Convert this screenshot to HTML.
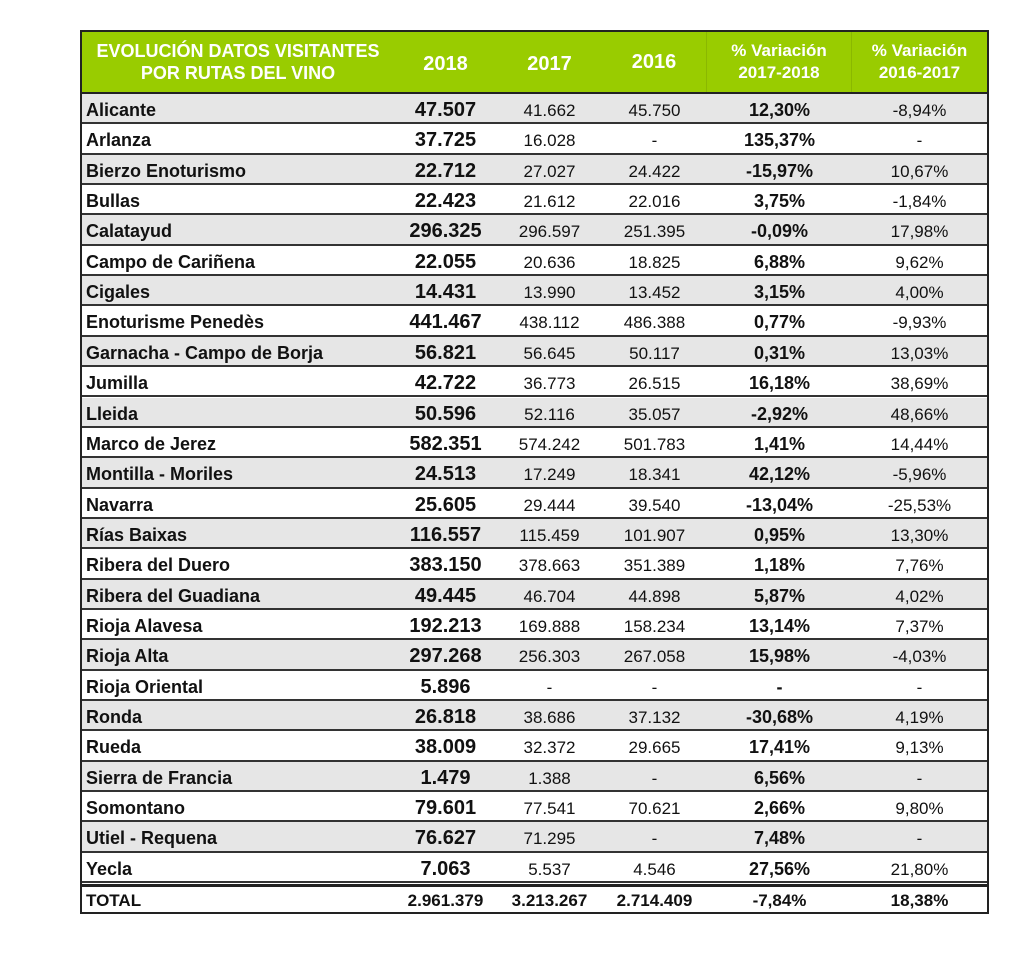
<!DOCTYPE html>
<html><head><meta charset="utf-8"><style>
body{margin:0;width:1024px;height:961px;background:#fff;position:relative;overflow:hidden;font-family:"Liberation Sans",sans-serif;}
#frame{position:absolute;left:80px;top:30px;width:905px;height:880px;border:2px solid #222;box-sizing:content-box;}
.hd{position:absolute;top:0;height:60px;background:#99cc00;color:#fff;font-weight:bold;display:flex;align-items:center;justify-content:center;text-align:center;line-height:22px;}
.row{position:absolute;left:0;width:905px;height:29px;border-bottom:2px solid #333;}
.c{position:absolute;top:0;height:29px;line-height:33px;font-size:17px;color:#111;text-align:center;}
</style></head><body>
<div id="frame">
<div class="hd" style="left:0;width:312px;font-size:18px;border-right:1px solid #8ab800">EVOLUCIÓN DATOS VISITANTES<br>POR RUTAS DEL VINO</div>
<div class="hd" style="left:312px;width:103px;font-size:20px;padding-top:4px;box-sizing:border-box">2018</div>
<div class="hd" style="left:415px;width:105px;font-size:20px;padding-top:4px;box-sizing:border-box">2017</div>
<div class="hd" style="left:520px;width:105px;font-size:20px;border-right:1px solid #8ab800;box-sizing:border-box">2016</div>
<div class="hd" style="left:625px;width:145px;font-size:17px;border-right:1px solid #8ab800;box-sizing:border-box">% Variación<br>2017-2018</div>
<div class="hd" style="left:770px;width:135px;font-size:17px">% Variación<br>2016-2017</div>
<div style="position:absolute;left:0;top:60px;width:905px;height:2px;background:#222"></div>
</div>
<script>
const routes=["Alicante","Arlanza","Bierzo Enoturismo","Bullas","Calatayud","Campo de Cariñena","Cigales","Enoturisme Penedès","Garnacha - Campo de Borja","Jumilla","Lleida","Marco de Jerez","Montilla - Moriles","Navarra","Rías Baixas","Ribera del Duero","Ribera del Guadiana","Rioja Alavesa","Rioja Alta","Rioja Oriental","Ronda","Rueda","Sierra de Francia","Somontano","Utiel - Requena","Yecla"];
const v2018=["47.507","37.725","22.712","22.423","296.325","22.055","14.431","441.467","56.821","42.722","50.596","582.351","24.513","25.605","116.557","383.150","49.445","192.213","297.268","5.896","26.818","38.009","1.479","79.601","76.627","7.063"];
const v2017=["41.662","16.028","27.027","21.612","296.597","20.636","13.990","438.112","56.645","36.773","52.116","574.242","17.249","29.444","115.459","378.663","46.704","169.888","256.303","-","38.686","32.372","1.388","77.541","71.295","5.537"];
const v2016=["45.750","-","24.422","22.016","251.395","18.825","13.452","486.388","50.117","26.515","35.057","501.783","18.341","39.540","101.907","351.389","44.898","158.234","267.058","-","37.132","29.665","-","70.621","-","4.546"];
const var1=["12,30%","135,37%","-15,97%","3,75%","-0,09%","6,88%","3,15%","0,77%","0,31%","16,18%","-2,92%","1,41%","42,12%","-13,04%","0,95%","1,18%","5,87%","13,14%","15,98%","-","-30,68%","17,41%","6,56%","2,66%","7,48%","27,56%"];
const var2=["-8,94%","-","10,67%","-1,84%","17,98%","9,62%","4,00%","-9,93%","13,03%","38,69%","48,66%","14,44%","-5,96%","-25,53%","13,30%","7,76%","4,02%","7,37%","-4,03%","-","4,19%","9,13%","-","9,80%","-","21,80%"];
const totals=["TOTAL","2.961.379","3.213.267","2.714.409","-7,84%","18,38%"];
const f=document.getElementById('frame');
const cols=[[4,308,'left',true,18],[312,103,'center',true,20],[415,105,'center',false,17],[520,105,'center',false,17],[625,145,'center',true,18],[770,135,'center',false,17]];
const rowH=30.35;
function mk(top,vals,bg,name,h,total){
 const r=document.createElement('div');r.className='row';
 
 
 r.style.top=top+'px';r.style.background=bg;if(h)r.style.height=h+'px';
 if(total)r.style.borderBottom='none';
 vals.forEach((v,i)=>{const c=document.createElement('div');c.className='c';
  
  
  const [l,w,a,b,fs]=cols[i];c.style.left=l+'px';c.style.width=w+'px';c.style.textAlign=a;
  c.style.fontWeight=(b||total)?'bold':'normal';c.style.fontSize=(total?17:fs)+'px';
  if(total){c.style.lineHeight='28px';}
  c.textContent=v;r.appendChild(c);});
 f.appendChild(r);
}
routes.forEach((n,i)=>{
 mk(62+i*rowH,[n,v2018[i],v2017[i],v2016[i],var1[i],var2[i]],i%2==0?'#e6e6e6':'#fff','row-'+n.toLowerCase().replace(/[^a-z]+/g,'-'),28.35);
});
const dl=document.createElement('div');


dl.style.cssText='position:absolute;left:0;width:905px;top:'+(62+26*rowH+1)+'px;height:3px;background:#222';
f.appendChild(dl);
mk(62+26*rowH+4,totals,'#fff','row-total',24,true);
</script>
</body></html>
